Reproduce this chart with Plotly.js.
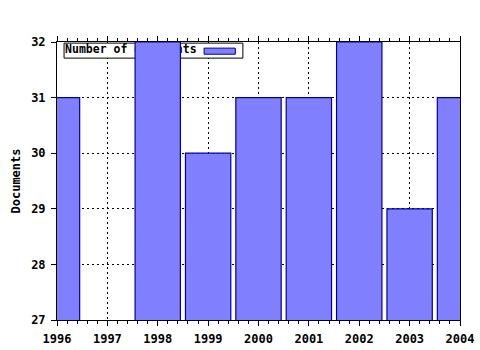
<!DOCTYPE html>
<html>
<head>
<meta charset="utf-8">
<script src="https://cdn.plot.ly/plotly-3.0.1.min.js"></script>
<style>
  html, body { margin: 0; padding: 0; background: #ffffff; }
  #chart { width: 480px; height: 350px; }
</style>
</head>
<body>
<div id="chart"></div>
<script>
// ---- data ----
const years = [1996, 1997, 1998, 1999, 2000, 2001, 2002, 2003, 2004];
const documents = [31, 27, 32, 30, 31, 31, 32, 29, 31];
const seriesName = "Number of documents";
const yTitle = "Documents";
const xTickVals = [1996, 1997, 1998, 1999, 2000, 2001, 2002, 2003, 2004];
const yTickVals = [27, 28, 29, 30, 31, 32];

// ---- styles ----
const FONT = "DejaVu Sans Mono, Liberation Mono, monospace";
const barFill = "#8080ff";
const barLine = "#0000a0";
const xRange = [1996, 2004];
const yRange = [27, 32];

// legend label drawn underneath the bars (like the original)
const legendText = {
  type: "scatter", mode: "text",
  x: [1996.16], y: [31.85],
  text: ["<b>" + seriesName + "</b>"],
  textposition: "middle right",
  textfont: { family: FONT, size: 11.5, color: "#000" },
  hoverinfo: "skip", showlegend: false,
  xaxis: "x", yaxis: "y"
};

const bars = {
  type: "bar",
  x: years, y: documents,
  width: 0.9,
  marker: {
    color: barFill,
    line: { color: barLine, width: documents.map(v => (v <= yRange[0] ? 0 : 1.2)) }
  },
  name: seriesName, showlegend: false,
  xaxis: "x2", yaxis: "y2"
};

const axisCommon = {
  showline: true, linecolor: "#000", linewidth: 1,
  showgrid: true, gridcolor: "#000", gridwidth: 1, griddash: "2px,3px",
  zeroline: false,
  ticks: "outside", tickcolor: "#000", ticklen: 5, tickwidth: 1,
  tickfont: { family: FONT, size: 12, color: "#000", weight: "bold" }
};

const layout = {
  width: 480, height: 350,
  margin: { l: 57, r: 20, t: 42, b: 30, pad: 0 },
  paper_bgcolor: "#fff", plot_bgcolor: "#fff",
  showlegend: false,
  xaxis: Object.assign({}, axisCommon, {
    range: xRange, tickvals: xTickVals, ticktext: xTickVals.map(String),
    mirror: "ticks", ticklabelstandoff: 3,
    minor: { dtick: 0.2, ticks: "outside", ticklen: 3, tickcolor: "#000", showgrid: false }
  }),
  yaxis: Object.assign({}, axisCommon, {
    range: yRange, tickvals: yTickVals, ticktext: yTickVals.map(String),
    mirror: true, ticklabelstandoff: 3,
    title: { text: yTitle, font: { family: FONT, size: 12, color: "#000", weight: "bold" }, standoff: 7 }
  }),
  xaxis2: { overlaying: "x", range: xRange, visible: false },
  yaxis2: { overlaying: "y", range: yRange, visible: false },
  shapes: [
    { type: "rect", layer: "between", xref: "x", yref: "y",
      x0: 1996.14, x1: 1999.69, y0: 31.71, y1: 31.98,
      fillcolor: "#fff", line: { color: "#000", width: 1 } },
    { type: "rect", layer: "between", xref: "x", yref: "y",
      x0: 1998.92, x1: 1999.54, y0: 31.78, y1: 31.89,
      fillcolor: barFill, line: { color: barLine, width: 1 } }
  ]
};

Plotly.newPlot("chart", [legendText, bars], layout, { staticPlot: true, displayModeBar: false });
</script>
</body>
</html>
